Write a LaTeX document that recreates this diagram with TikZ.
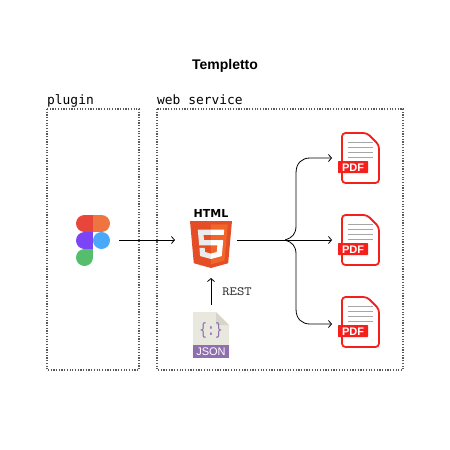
\documentclass[tikz,border=0pt]{standalone}
\usepackage{fontspec}
\usetikzlibrary{arrows.meta}
\setmainfont{Liberation Sans}
\newfontfamily\labfont{DejaVu Sans Mono}
\newfontfamily\logofont{DejaVu Sans}
\definecolor{pdfred}{HTML}{F5201C}
\definecolor{jsonpage}{HTML}{E9E8DF}
\definecolor{jsonfold}{HTML}{D6D5CA}
\definecolor{jsonpurple}{HTML}{8F6FAE}
\definecolor{figred}{HTML}{E8463A}
\definecolor{figorange}{HTML}{EE7440}
\definecolor{figpurple}{HTML}{7B45F5}
\definecolor{figblue}{HTML}{4BA8F8}
\definecolor{figgreen}{HTML}{55BE6C}
\definecolor{htmldark}{HTML}{E44D26}
\definecolor{htmllight}{HTML}{F16529}
\newcommand{\pdficon}[1]{%
  \begin{scope}[shift={(0,#1)}]
    \draw[pdfred,line width=1.8pt,fill=white,rounded corners=3.5pt] (342,133)--(367,133)--(379,145)--(379,183)--(342,183)--cycle;
    \foreach \ly in {142,147,152,157}{\draw[gray!70,line width=.7pt] (348,\ly)--(373,\ly);}
    \fill[pdfred,rounded corners=.6pt] (338,161) rectangle (368,173);
    \node[text=white,font=\bfseries\fontsize{11}{11}\selectfont,inner sep=0pt] at (353,167.4) {PDF};
  \end{scope}}
\tikzset{
  zone/.style={draw=black!65,dash pattern=on 1.2pt off 1.5pt,line width=1.2pt},
  zonelabel/.style={font=\labfont\fontsize{12.9}{13}\selectfont,anchor=base west,inner sep=0pt},
  anchorbox/.style={inner sep=0pt,outer sep=0pt,minimum width=#1},
  link/.style={-{Straight Barb[length=3pt,width=7pt]},line width=.8pt,black},
  x=1pt,y=-1pt
}
\begin{document}
\begin{tikzpicture}
\useasboundingbox (0,0) rectangle (450,450);
\fill[white] (0,0) rectangle (450,450);
\node[font=\bfseries\fontsize{14}{14}\selectfont,inner sep=0pt] (title) at (225,66.3) {Templetto};
\draw[zone] (47,109) rectangle (139,370);
\draw[zone] (157,109) rectangle (403,370);
\node[zonelabel] (plug) at (47,104) {plugin};
\node[zonelabel] (web) at (157,104) {web service};
% figma
\fill[figred] (84.5,223.5) circle (8.5);
\fill[figred] (84.5,215) rectangle (93,232);
\fill[figorange] (101.5,223.5) circle (8.5);
\fill[figorange] (93,215) rectangle (101.5,232);
\fill[figpurple] (84.5,240.5) circle (8.5);
\fill[figpurple] (84.5,232) rectangle (93,249);
\fill[figblue] (101.5,240.5) circle (8.5);
\fill[figgreen] (84.5,257.5) circle (8.5);
\fill[figgreen] (84.5,249) rectangle (93,257.5);
% html5
\node[font=\logofont\bfseries\fontsize{11}{11}\selectfont,inner sep=0pt] (htmltxt) at (211,213.5) {HTML};
\begin{scope}[shift={(187.2,221)},x=.0929pt,y=-.0918pt]
  \fill[htmldark] (30,0)--(482,0)--(441,460)--(256,512)--(71,460)--cycle;
  \fill[htmllight] (256,37)--(437,37)--(402,430)--(256,472)--cycle;
  \fill[black!8] (256,208)--(181,208)--(176,150)--(256,150)--(256,94)--(114,94)--(129,265)--(256,265)--cycle;
  \fill[black!8] (256,355)--(192,338)--(188,293)--(132,293)--(139,382)--(256,414)--cycle;
  \fill[white] (256,265)--(325,265)--(318,338)--(256,355)--(256,414)--(372,382)--(388,208)--(256,208)--cycle;
  \fill[white] (256,94)--(256,150)--(393,150)--(398,94)--cycle;
\end{scope}
% json
\fill[jsonpage] (193,312)--(216,312)--(229,325)--(229,346)--(193,346)--cycle;
\fill[jsonfold] (216,312)--(229,325)--(216,325)--cycle;
\fill[jsonpurple] (193,345)--(229,345)--(229,358)--(193,358)--cycle;
\node[text=jsonpurple,font=\labfont\fontsize{13}{13}\selectfont,inner sep=0pt,yscale=1.3] (brace) at (211,330) {\{:\}};
\node[text=white,font=\fontsize{11}{11}\selectfont,inner sep=0pt] (jsontxt) at (211,352) {JSON};
% pdfs
\pdficon{0}\pdficon{82}\pdficon{164}
% invisible anchors for connectors
\node[anchorbox=52pt,minimum height=52pt] (figma) at (93,240) {};
\node[anchorbox=62pt,minimum height=76pt] (html) at (206,240) {};
\node[anchorbox=36pt,minimum height=60pt] (json) at (211,335) {};
\node[anchorbox=56pt,minimum height=50pt] (pdfa) at (360,158) {};
\node[anchorbox=56pt,minimum height=50pt] (pdfb) at (360,240) {};
\node[anchorbox=56pt,minimum height=50pt] (pdfc) at (360,324) {};
\coordinate (fork) at (285,240);
\draw[link] (figma.east) -- (html.west);
\draw[link] (json.north) -- (json.north |- html.south);
\node[font=\ttfamily\fontsize{12.5}{12.5}\selectfont,inner sep=0pt,text=black!85,xscale=1.14] (rest) at (237,292) {REST};
\draw[link] (html.east) -- (pdfb.west);
\draw[link] (fork) .. controls (292,238) and (296,234) .. (296,226) -- (296,173) .. controls (296,163) and (302,158) .. (310,158) -- (pdfa.west);
\draw[link] (fork) .. controls (292,242) and (296,246) .. (296,254) -- (296,309) .. controls (296,319) and (302,324) .. (310,324) -- (pdfc.west);
\end{tikzpicture}
\end{document}
